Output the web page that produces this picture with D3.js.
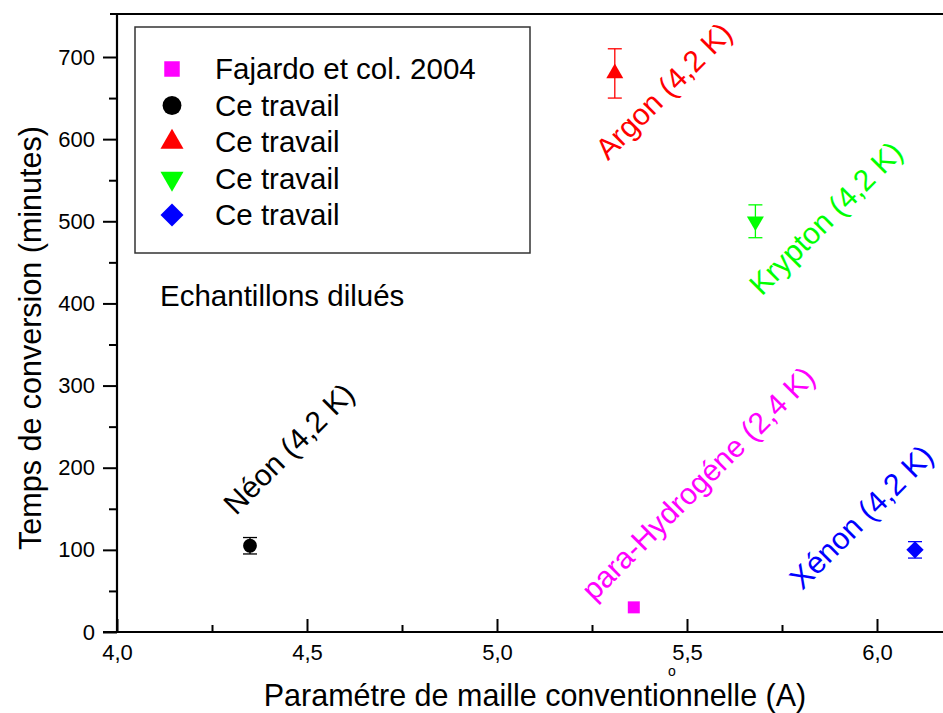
<!DOCTYPE html>
<html><head><meta charset="utf-8">
<script src="https://cdn.jsdelivr.net/npm/d3@7"></script>
<style>body{margin:0;background:#fff}svg{display:block}text{font-family:"Liberation Sans",Arial,sans-serif}</style>
</head><body><svg id="c" width="943" height="713"></svg>
<script>
// Data
const samples = ["para-Hydrogéne (2,4 K)", "Néon (4,2 K)", "Argon (4,2 K)", "Krypton (4,2 K)", "Xénon (4,2 K)"];
const seriesNames = ["Fajardo et col. 2004", "Ce travail", "Ce travail", "Ce travail", "Ce travail"];
const latticeParam = [5.36, 4.35, 5.31, 5.68, 6.10];
const conversionTime = [30, 105, 680, 500, 100];
const timeError = [0, 10, 30, 20, 10];
const colors = ["#ff00ff", "#000000", "#ff0000", "#00ff00", "#0000ff"];
const symbols = ["square", "circle", "triangle", "triangleDown", "diamond"];
const xMajorTicks = [4.0, 4.5, 5.0, 5.5, 6.0];
const xMinorTicks = [4.25, 4.75, 5.25, 5.75];
const yMajorTicks = [0, 100, 200, 300, 400, 500, 600, 700];
const yMinorTicks = [50, 150, 250, 350, 450, 550, 650];
// label anchors (data units)
const labelX = [5.255, 4.313, 5.292, 5.697, 5.803];
const labelY = [36.5, 141, 573, 408, 50];

const svg = d3.select("#c");
const W = 943;
const m = {left: 117, top: 14, bottom: 632};
const x = d3.scaleLinear().domain([4, 6]).range([117, 877]);
const y = d3.scaleLinear().domain([0, 700]).range([632, 57]);
const fmt = v => d3.format(".1f")(v).replace(".", ",");
const labelFont = [30, 30, 30, 30, 30.5];

// Frame lines
svg.append("line").attr("x1", 103).attr("x2", W).attr("y1", m.bottom).attr("y2", m.bottom).attr("stroke", "#000").attr("stroke-width", 2.2);
svg.append("line").attr("x1", 110).attr("x2", W).attr("y1", m.top).attr("y2", m.top).attr("stroke", "#000").attr("stroke-width", 2.2);
svg.append("line").attr("x1", m.left).attr("x2", m.left).attr("y1", m.top).attr("y2", m.bottom + 1).attr("stroke", "#000").attr("stroke-width", 2.2);

// X axis (ticks inward)
const gx = svg.append("g").attr("transform", `translate(0,${m.bottom})`)
  .call(d3.axisBottom(x).tickValues(xMajorTicks).tickFormat(fmt).tickSizeInner(-13).tickSizeOuter(0).tickPadding(12));
gx.select(".domain").remove();
gx.selectAll(".tick line").attr("stroke-width", 2);
gx.selectAll(".tick text").attr("font-size", 22).attr("fill", "#000").attr("font-family", "Liberation Sans, Arial, sans-serif");
const gxm = svg.append("g").attr("transform", `translate(0,${m.bottom})`)
  .call(d3.axisBottom(x).tickValues(xMinorTicks).tickFormat("").tickSizeInner(-7).tickSizeOuter(0));
gxm.select(".domain").remove();
gxm.selectAll(".tick line").attr("stroke-width", 2);

// Y axis (ticks outward)
const gy = svg.append("g").attr("transform", `translate(${m.left},0)`)
  .call(d3.axisLeft(y).tickValues(yMajorTicks).tickSizeInner(14).tickSizeOuter(0).tickPadding(8));
gy.select(".domain").remove();
gy.selectAll(".tick line").attr("stroke-width", 2);
gy.selectAll(".tick text").attr("font-size", 22).attr("fill", "#000").attr("font-family", "Liberation Sans, Arial, sans-serif");
const gym = svg.append("g").attr("transform", `translate(${m.left},0)`)
  .call(d3.axisLeft(y).tickValues(yMinorTicks).tickFormat("").tickSizeInner(8).tickSizeOuter(0));
gym.select(".domain").remove();
gym.selectAll(".tick line").attr("stroke-width", 2);

// Axis titles
svg.append("text").attr("x", 535).attr("y", 706).attr("text-anchor", "middle").attr("font-size", 30.5).text("Paramétre de maille conventionnelle (A)");
svg.append("text").attr("x", 672).attr("y", 676).attr("text-anchor", "middle").attr("font-size", 14).text("o");
svg.append("text").attr("transform", "translate(41,338) rotate(-90)").attr("text-anchor", "middle").attr("font-size", 30.5).text("Temps de conversion (minutes)");

// Symbol helper
function symPath(type, s) {
  const map = {square: d3.symbolSquare, circle: d3.symbolCircle, triangle: d3.symbolTriangle, diamond: d3.symbolSquare, triangleDown: d3.symbolTriangle};
  return d3.symbol().type(map[type]).size(s)();
}
function symRot(type) {
  return type === "triangleDown" ? " rotate(180)" : type === "diamond" ? " rotate(45)" : "";
}
const plotSize = [144, 150, 125, 125, 150];
const legSize = [240, 280, 230, 230, 265];

// Error bars + points
const idx = d3.range(latticeParam.length);
const pts = svg.append("g");
idx.forEach(i => {
  const cx = x(latticeParam[i]), cy = y(conversionTime[i]);
  if (timeError[i] > 0) {
    const y1 = y(conversionTime[i] + timeError[i]), y2 = y(conversionTime[i] - timeError[i]);
    pts.append("line").attr("x1", cx).attr("x2", cx).attr("y1", y1).attr("y2", y2).attr("stroke", colors[i]).attr("stroke-width", 1.3);
    [y1, y2].forEach(yy => pts.append("line").attr("x1", cx - 7).attr("x2", cx + 7).attr("y1", yy).attr("y2", yy).attr("stroke", colors[i]).attr("stroke-width", 1.3));
  }
  pts.append("path").attr("d", symPath(symbols[i], plotSize[i]))
    .attr("transform", `translate(${cx},${cy})` + symRot(symbols[i]))
    .attr("fill", colors[i]);
});

// Rotated labels
idx.forEach(i => {
  const lx = x(labelX[i]), ly = y(labelY[i]);
  svg.append("text").attr("transform", `translate(${lx},${ly}) rotate(-45)`)
    .attr("font-size", labelFont[i]).attr("fill", colors[i]).text(samples[i]);
});

// Legend
svg.append("rect").attr("x", 135).attr("y", 27).attr("width", 395).attr("height", 226).attr("fill", "none").attr("stroke", "#333").attr("stroke-width", 1.5);
idx.forEach(i => {
  const ry = 69 + i * 36.5;
  svg.append("path").attr("d", symPath(symbols[i], legSize[i]))
    .attr("transform", `translate(172,${ry})` + symRot(symbols[i]))
    .attr("fill", colors[i]);
  svg.append("text").attr("x", 215).attr("y", ry + 10).attr("font-size", 29.5).text(seriesNames[i]);
});
svg.append("text").attr("x", 160).attr("y", 306).attr("font-size", 29.5).text("Echantillons dilués");
</script></body></html>
